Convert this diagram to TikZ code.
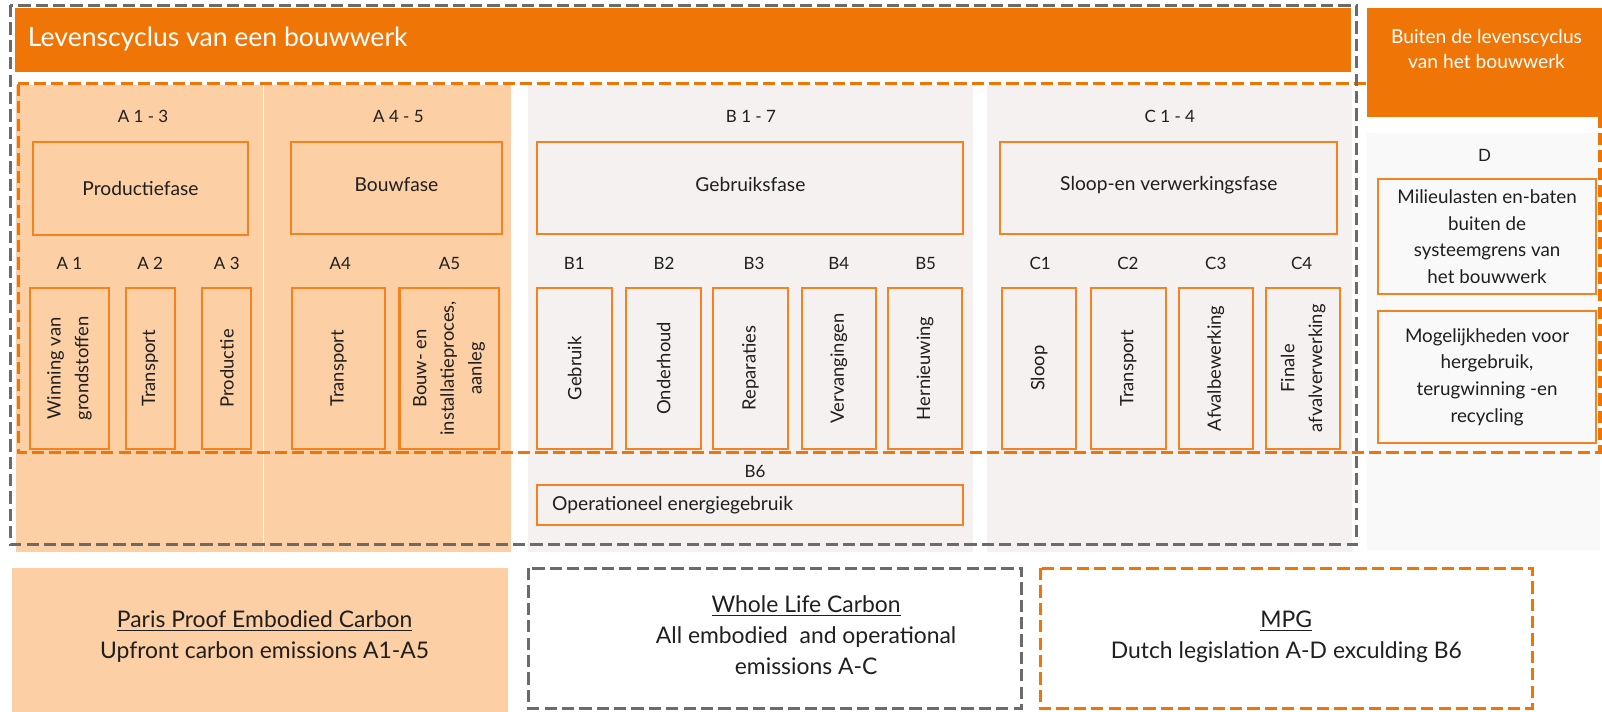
\documentclass[tikz,border=0pt]{standalone}
\usepackage{fontspec}
\setmainfont{Lato}
\usetikzlibrary{fit}
\definecolor{hdr}{HTML}{F07507}
\definecolor{peach}{HTML}{FCCFA5}
\definecolor{lgray}{HTML}{F4F1F0}
\definecolor{dbg}{HTML}{F9F9F9}
\definecolor{dgray}{HTML}{6B6B6B}
\definecolor{lor}{HTML}{F5821F}
\definecolor{txt}{HTML}{1F1F1F}
\begin{document}
\begin{tikzpicture}[x=0.5pt,y=-0.5pt,
  gdash/.style={draw=dgray,line width=1.5pt,dash pattern=on 6pt off 2.5pt},
  odash/.style={draw=hdr,line width=1.5pt,dash pattern=on 6pt off 2.5pt},
  obox/.style={draw=lor,line width=1pt,inner sep=0pt},
  ffill/.style={inner sep=0pt,draw=none},
  lbl/.style={text=txt,font=\fontsize{8.3}{10}\selectfont},
  ptxt/.style={text=txt,font=\fontsize{9.4}{11}\selectfont,align=center},
  rtxt/.style={text=txt,font=\fontsize{9}{13.5}\selectfont,align=center,rotate=90},
  dtxt/.style={text=txt,font=\fontsize{9.2}{13}\selectfont,align=center},
  btxt/.style={text=txt,font=\fontsize{11.2}{15.2}\selectfont,align=center}]
\useasboundingbox (0,0) rectangle (1568,696);
% backgrounds
\node[ffill,fill=peach,fit={(16,83)(500,540)}] (bgA) {};
\draw[white,line width=0.6pt] (258,83) -- (258,540);
\node[ffill,fill=lgray,fit={(517,83)(952,540)}] (bgB) {};
\node[ffill,fill=lgray,fit={(966,83)(1323,540)}] (bgC) {};
\node[ffill,fill=dbg,fit={(1338,130)(1566,538)}] (bgD) {};
% orange dashed frame
\draw[odash] (18,82) rectangle (1566,443);
% header bars
\node[ffill,fill=hdr,fit={(15,8)(1322,70)}] (hdrbar) {};
\node[anchor=west,inner sep=0pt,text=white,font=\fontsize{13}{15}\selectfont] (hdrtxt) at (27,38) {Levenscyclus van een bouwwerk};
\node[ffill,fill=hdr,fit={(1338,8)(1568,115)}] (buiten) {};
\node[text=white,font=\fontsize{9.4}{12.5}\selectfont,align=center] (buitentxt) at (1455,48) {Buiten de levenscyclus\\van het bouwwerk};
% gray dashed frame
\draw[gdash] (10,5) rectangle (1328,533);
% stage labels
\node[lbl] (lA13) at (140,114) {A 1 - 3};
\node[lbl] (lA45) at (390,114) {A 4 - 5};
\node[lbl] (lB17) at (735,114) {B 1 - 7};
\node[lbl] (lC14) at (1145,114) {C 1 - 4};
\node[lbl] (lD) at (1453,152) {D};
% phase boxes
\node[obox,fit={(32,139)(243,230)}] (prod) {};
\node[ptxt] at (prod.center) {Productiefase};
\node[obox,fit={(285,139)(491,229)}] (bouw) {};
\node[ptxt] at ([yshift=1.5pt]bouw.center) {Bouwfase};
\node[obox,fit={(526,139)(943,229)}] (gebr) {};
\node[ptxt] at ([yshift=1.5pt]gebr.center) {Gebruiksfase};
\node[obox,fit={(979,139)(1309,229)}] (sloop) {};
\node[ptxt] at ([yshift=1.5pt]sloop.center) {Sloop-en verwerkingsfase};
% module labels
\foreach \t/\x in {A 1/68,A 2/147,A 3/222,A4/333,A5/440,B1/562,B2/650,B3/738,B4/821,B5/906,C1/1018,C2/1104,C3/1190,C4/1274}
  \node[lbl] at (\x,258) {\t};
% module boxes
\node[obox,fit={(29,282)(107,439)}] (a1) {};
\node[rtxt] at (a1.center) {Winning van\\grondstoffen};
\node[obox,fit={(123,282)(171,439)}] (a2) {};
\node[rtxt] at (a2.center) {Transport};
\node[obox,fit={(198,282)(246,439)}] (a3) {};
\node[rtxt] at (a3.center) {Productie};
\node[obox,fit={(286,282)(377,439)}] (a4) {};
\node[rtxt] at (a4.center) {Transport};
\node[obox,fit={(391,282)(488,439)}] (a5) {};
\node[rtxt] at (a5.center) {Bouw- en\\installatieproces,\\aanleg};
\node[obox,fit={(526,282)(599,439)}] (b1) {};
\node[rtxt] at (b1.center) {Gebruik};
\node[obox,fit={(613,282)(686,439)}] (b2) {};
\node[rtxt] at (b2.center) {Onderhoud};
\node[obox,fit={(698,282)(771,439)}] (b3) {};
\node[rtxt] at (b3.center) {Reparaties};
\node[obox,fit={(785,282)(857,439)}] (b4) {};
\node[rtxt] at (b4.center) {Vervangingen};
\node[obox,fit={(869,282)(942,439)}] (b5) {};
\node[rtxt] at (b5.center) {Hernieuwing};
\node[obox,fit={(981,282)(1053,439)}] (c1) {};
\node[rtxt] at (c1.center) {Sloop};
\node[obox,fit={(1068,282)(1141,439)}] (c2) {};
\node[rtxt] at (c2.center) {Transport};
\node[obox,fit={(1154,282)(1226,439)}] (c3) {};
\node[rtxt] at (c3.center) {Afvalbewerking};
\node[obox,fit={(1239,282)(1312,439)}] (c4) {};
\node[rtxt] at (c4.center) {Finale\\afvalverwerking};
% B6
\node[lbl] (lB6) at (739,461) {B6};
\node[obox,fit={(526,475)(943,514)}] (b6) {};
\node[ptxt,anchor=west,inner sep=0pt] at (540,494) {Operationeel energiegebruik};
% D boxes
\node[obox,fit={(1349,175)(1562,288)}] (d1) {};
\node[dtxt] at (d1.center) {Milieulasten en-baten\\buiten de\\systeemgrens van\\het bouwwerk};
\node[obox,fit={(1349,304)(1562,434)}] (d2) {};
\node[dtxt] at (d2.center) {Mogelijkheden voor\\hergebruik,\\terugwinning -en\\recycling};
% bottom legend
\node[ffill,fill=peach,fit={(12,556)(497,700)}] (paris) {};
\node[btxt] at (259,623) {\underline{Paris Proof Embodied Carbon}\\Upfront carbon emissions A1-A5};
\draw[gdash] (517,556) rectangle (1000,693);
\node[btxt] at (789,622) {\underline{Whole Life Carbon}\\All embodied\ \ and operational\\emissions A-C};
\draw[odash] (1018,556) rectangle (1500,693);
\node[btxt] at (1259,623) {\underline{MPG}\\Dutch legislation A-D exculding B6};
\end{tikzpicture}
\end{document}
